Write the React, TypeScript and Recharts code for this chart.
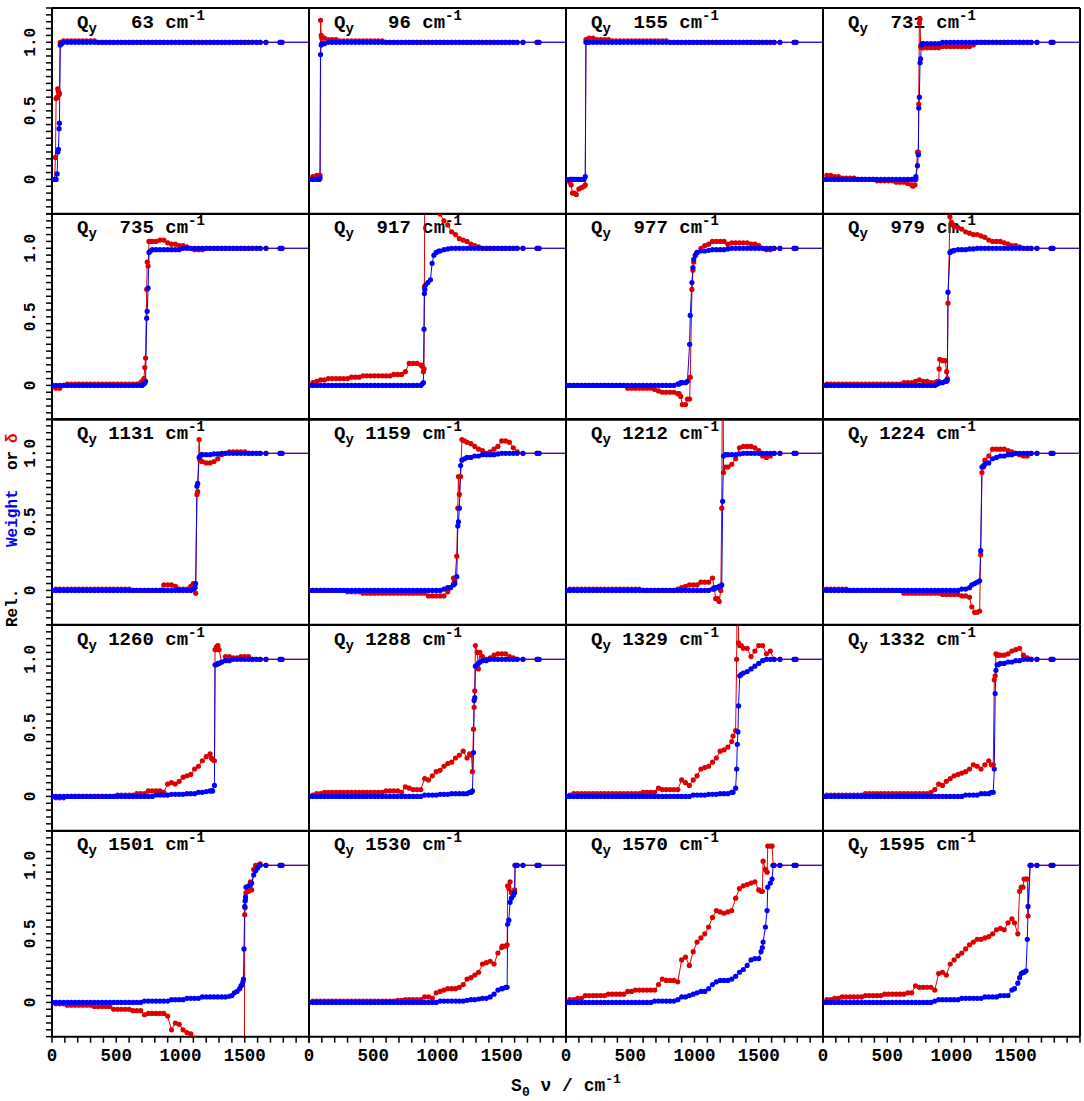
import React from 'react';
import { LineChart, Line, XAxis, YAxis } from 'recharts';

// ---------- shared S0 frequency grid (cm-1) ----------
const GRID_X = [
  0, 30, 60, 90, 120, 150, 180, 210, 240, 270,
  300, 330, 360, 390, 420, 450, 480, 510, 540, 570,
  600, 630, 660, 690, 720, 750, 780, 810, 840, 870,
  900, 930, 960, 990, 1020, 1050, 1080, 1110, 1140, 1170,
  1200, 1230, 1260, 1290, 1320, 1350, 1380, 1410, 1440, 1470,
  1500, 1530, 1560, 1590, 1620,
];
const TAIL_X = [1665, 1775, 1790, 3000];
const TAIL_VALUE = [1, 1, 1, 1];

const X_TICKS = [0, 100, 200, 300, 400, 500, 600, 700, 800, 900, 1000, 1100, 1200, 1300, 1400, 1500, 1600, 1700, 1800, 1900, 2000];
const X_LABELS = [0, 500, 1000, 1500];
const Y_TICKS = [-0.25, -0.2, -0.15, -0.1, -0.05, 0, 0.05, 0.1, 0.15, 0.2, 0.25, 0.3, 0.35, 0.4, 0.45, 0.5, 0.55, 0.6, 0.65, 0.7, 0.75, 0.8, 0.85, 0.9, 0.95, 1, 1.05, 1.1, 1.15, 1.2, 1.25];
const Y_LABELS = [0, 0.5, 1];
const Y_LABEL_TEXT = ['0', '0.5', '1.0'];

const MODES = [63, 96, 155, 731, 735, 917, 977, 979, 1131, 1159, 1212, 1224, 1260, 1288, 1329, 1332, 1501, 1530, 1570, 1595];

// ---------- Qy 63 ----------
const B63 = [
  0, 0, 0, 1, 1, 1, 1, 1, 1, 1,
  1, 1, 1, 1, 1, 1, 1, 1, 1, 1,
  1, 1, 1, 1, 1, 1, 1, 1, 1, 1,
  1, 1, 1, 1, 1, 1, 1, 1, 1, 1,
  1, 1, 1, 1, 1, 1, 1, 1, 1, 1,
  1, 1, 1, 1, 1,
];
const R63 = [
  0, 0, 0.6, 1.01, 1.01, 1.01, 1.01, 1.01, 1.01, 1.01,
  1.01, 1.01, 1, 1, 1, 1, 1, 1, 1, 1,
  1, 1, 1, 1, 1, 1, 1, 1, 1, 1,
  1, 1, 1, 1, 1, 1, 1, 1, 1, 1,
  1, 1, 1, 1, 1, 1, 1, 1, 1, 1,
  1, 1, 1, 1, 1,
];
const E63 = [[20, 0, 0], [27, 0, 0.16], [32, 0, 0.59], [40, 0.04, 0.6], [45, 0.2, 0.66], [50, 0.22, 0.64], [55, 0.37, 0.62], [58, 0.41, 0.63], [64, 0.98, 1.0], [75, 0.99, 1.0]];

// ---------- Qy 96 ----------
const B96 = [
  0, 0, 0, 0, 0.99, 1, 1, 1, 1, 1,
  1, 1, 1, 1, 1, 1, 1, 1, 1, 1,
  1, 1, 1, 1, 1, 1, 1, 1, 1, 1,
  1, 1, 1, 1, 1, 1, 1, 1, 1, 1,
  1, 1, 1, 1, 1, 1, 1, 1, 1, 1,
  1, 1, 1, 1, 1,
];
const R96 = [
  0, 0.02, 0.03, 0.03, 1.03, 1.02, 1.02, 1.02, 1.01, 1.01,
  1.01, 1.01, 1.01, 1.01, 1.01, 1.01, 1.01, 1.01, 1.01, 1.01,
  1, 1, 1, 1, 1, 1, 1, 1, 1, 1,
  1, 1, 1, 1, 1, 1, 1, 1, 1, 1,
  1, 1, 1, 1, 1, 1, 1, 1, 1, 1,
  1, 1, 1, 1, 1,
];
const E96 = [[80, 0, 0.03], [86, 0.01, 0.03], [90, 0.91, 1.16], [95, 0.98, 1.05], [100, 0.99, 1.03]];

// ---------- Qy 155 ----------
const B155 = [
  0, 0, 0, 0, 0, 0, 1, 1, 1, 1,
  1, 1, 1, 1, 1, 1, 1, 1, 1, 1,
  1, 1, 1, 1, 1, 1, 1, 1, 1, 1,
  1, 1, 1, 1, 1, 1, 1, 1, 1, 1,
  1, 1, 1, 1, 1, 1, 1, 1, 1, 1,
  1, 1, 1, 1, 1,
];
const R155 = [
  0, -0.02, -0.1, -0.1, -0.07, -0.05, 1.03, 1.03, 1.02, 1.02,
  1.02, 1.02, 1.01, 1.01, 1.01, 1.01, 1.01, 1.01, 1.01, 1.01,
  1.01, 1.01, 1.01, 1.01, 1.01, 1.01, 1.01, 1, 1, 1,
  1, 1, 1, 1, 1, 1, 1, 1, 1, 1,
  1, 1, 1, 1, 1, 1, 1, 1, 1, 1,
  1, 1, 1, 1, 1,
];
const E155 = [[40, 0, -0.04], [50, 0, -0.1], [65, 0, -0.1], [80, 0, -0.11], [100, 0, -0.07], [120, 0, -0.06], [140, 0, -0.05], [150, 0.02, -0.04], [155, 1.0, 1.02], [165, 1.0, 1.02]];

// ---------- Qy 731 ----------
const B731 = [
  0, 0, 0, 0, 0, 0, 0, 0, 0, 0,
  0, 0, 0, 0, 0, 0, 0, 0, 0, 0,
  0, 0, 0, 0, 0.5, 0.5, 0.99, 0.99, 0.99, 0.99,
  0.99, 1, 1, 1, 1, 1, 1, 1, 1, 1,
  1, 1, 1, 1, 1, 1, 1, 1, 1, 1,
  1, 1, 1, 1, 1,
];
const R731 = [
  0, 0.03, 0.03, 0.02, 0.02, 0.01, 0.01, 0.01, 0.01, 0,
  0, 0, 0, 0, -0.01, -0.01, -0.01, -0.01, -0.01, -0.02,
  -0.02, -0.02, -0.03, -0.04, 0.5, 0.5, 0.96, 0.96, 0.96, 0.96,
  0.96, 0.97, 0.97, 0.97, 0.97, 0.97, 0.97, 0.97, 0.97, 0.98,
  1, 1, 1, 1, 1, 1, 1, 1, 1, 1,
  1, 1, 1, 1, 1,
];
const E731 = [[700, 0, -0.05], [715, 0, -0.04], [723, 0.02, 0.0], [735, 0.1, 0.2], [742, 0.18, 0.2], [745, 0.52, 0.55], [750, 0.6, 1.14], [755, 0.85, 1.17], [760, 0.88, 0.97], [765, 0.98, 0.96], [775, 0.99, 0.96]];

// ---------- Qy 735 ----------
const B735 = [
  0, 0, 0, 0, 0, 0, 0, 0, 0, 0,
  0, 0, 0, 0, 0, 0, 0, 0, 0, 0,
  0, 0, 0, 0, 0.5, 0.5, 0.99, 0.99, 0.99, 0.99,
  0.99, 0.99, 0.99, 0.99, 1, 1, 1, 1, 1, 1,
  1, 1, 1, 1, 1, 1, 1, 1, 1, 1,
  1, 1, 1, 1, 1,
];
const R735 = [
  0, -0.02, -0.02, 0, 0.01, 0.01, 0.01, 0.01, 0.01, 0.01,
  0.01, 0.01, 0.01, 0.01, 0.01, 0.01, 0.01, 0.01, 0.01, 0.01,
  0.01, 0.01, 0.01, 0.02, 0.5, 0.5, 1.05, 1.05, 1.06, 1.06,
  1.04, 1.03, 1.03, 1.02, 1.02, 1.01, 1, 0.99, 0.99, 0.99,
  1, 1, 1, 1, 1, 1, 1, 1, 1, 1,
  1, 1, 1, 1, 1,
];
const E735 = [[700, 0, 0.03], [715, 0.01, 0.05], [722, 0.02, 0.13], [728, 0.03, 0.2], [737, 0.49, 0.7], [741, 0.54, 0.9], [748, 0.71, 0.87], [755, 0.97, 1.05], [765, 0.98, 1.05]];

// ---------- Qy 917 ----------
const B917 = [
  0, 0, 0, 0, 0, 0, 0, 0, 0, 0,
  0, 0, 0, 0, 0, 0, 0, 0, 0, 0,
  0, 0, 0, 0, 0, 0, 0, 0, 0, 0,
  0.7, 0.8, 0.9, 0.97, 0.98, 0.99, 0.995, 1, 1, 1,
  1, 1, 1, 1, 1, 1, 1, 1, 1, 1,
  1, 1, 1, 1, 1,
];
const R917 = [
  0, 0.02, 0.03, 0.04, 0.04, 0.05, 0.05, 0.05, 0.05, 0.05,
  0.05, 0.06, 0.06, 0.06, 0.07, 0.07, 0.07, 0.07, 0.07, 0.07,
  0.07, 0.07, 0.08, 0.08, 0.08, 0.1, 0.16, 0.16, 0.16, 0.15,
  1.6, 1.55, 1.45, 1.35, 1.25, 1.2, 1.17, 1.12, 1.1, 1.07,
  1.06, 1.05, 1.03, 1.02, 1.01, 1, 1, 1, 1, 1,
  1, 1, 1, 1, 1,
];
const E917 = [[880, 0.01, 0.14], [890, 0.02, 0.1], [895, 0.41, 0.12], [898, 0.67, 0.72], [901, 0.7, 1.6], [906, 0.73, 1.6], [925, 0.75, 1.55], [945, 0.77, 1.5], [958, 0.89, 1.45], [972, 0.95, 1.4], [990, 0.97, 1.35], [1010, 0.98, 1.28]];

// ---------- Qy 977 ----------
const B977 = [
  0, 0, 0, 0, 0, 0, 0, 0, 0, 0,
  0, 0, 0, 0, 0, 0, 0, 0, 0, 0,
  0, 0, 0, 0, 0, 0, 0, 0, 0, 0.01,
  0.02, 0.02, 0.3, 0.9, 0.97, 0.98, 0.98, 0.985, 0.99, 0.99,
  0.99, 0.99, 0.995, 1, 1, 1, 1, 1, 1, 1,
  1, 1, 1, 1, 1,
];
const R977 = [
  0, 0, 0, 0, 0, 0, 0, 0, 0, 0,
  0, 0, 0, 0, 0, 0, -0.02, -0.02, -0.02, -0.02,
  -0.02, -0.02, -0.02, -0.03, -0.04, -0.05, -0.05, -0.05, -0.05, -0.06,
  -0.14, -0.14, -0.1, 0.9, 0.97, 1, 1.02, 1.03, 1.05, 1.05,
  1.05, 1.05, 1.03, 1.04, 1.04, 1.04, 1.04, 1.04, 1.03, 1.03,
  1.02, 1, 0.99, 0.99, 1,
];
const E977 = [[880, 0.01, -0.06], [893, 0.02, -0.08], [905, 0.02, -0.14], [930, 0.02, -0.14], [945, 0.03, -0.1], [962, 0.3, -0.1], [967, 0.51, 0.06], [980, 0.75, 0.7], [988, 0.86, 0.84], [994, 0.92, 0.9], [1007, 0.95, 0.95], [1020, 0.97, 0.97]];

// ---------- Qy 979 ----------
const B979 = [
  0, 0, 0, 0, 0, 0, 0, 0, 0, 0,
  0, 0, 0, 0, 0, 0, 0, 0, 0, 0,
  0, 0, 0, 0, 0, 0, 0, 0, 0, 0,
  0.02, 0.02, 0.03, 0.97, 0.985, 0.99, 0.99, 0.99, 0.995, 0.995,
  1, 1, 1, 1, 1, 1, 1, 1, 1, 1,
  1, 1, 1, 1, 1,
];
const R979 = [
  0, 0.01, 0.01, 0.01, 0.01, 0.01, 0.01, 0.01, 0.01, 0.01,
  0.01, 0.01, 0.01, 0.01, 0.01, 0.01, 0.01, 0.01, 0.01, 0.01,
  0.01, 0.02, 0.02, 0.02, 0.03, 0.04, 0.03, 0.03, 0.02, 0.02,
  0.03, 0.18, 0.1, 1.2, 1.16, 1.15, 1.14, 1.12, 1.11, 1.1,
  1.1, 1.09, 1.08, 1.06, 1.05, 1.05, 1.05, 1.04, 1.03, 1.02,
  1.02, 1.01, 1, 1, 1,
];
const E979 = [[890, 0.01, 0.03], [901, 0.02, 0.03], [904, 0.02, 0.12], [909, 0.02, 0.19], [930, 0.02, 0.18], [950, 0.03, 0.18], [962, 0.03, 0.1], [967, 0.04, 0.05], [973, 0.68, 0.6], [988, 0.97, 1.23], [1000, 0.98, 1.19], [1015, 0.98, 1.17]];

// ---------- Qy 1131 ----------
const B1131 = [
  0, 0, 0, 0, 0, 0, 0, 0, 0, 0,
  0, 0, 0, 0, 0, 0, 0, 0, 0, 0,
  0, 0, 0, 0, 0, 0, 0, 0, 0, 0,
  0, 0, 0, 0, 0, 0, 0, 0.03, 0.7, 0.99,
  0.99, 0.99, 0.995, 0.995, 1, 1, 1, 1, 1, 1,
  1, 1, 1, 1, 1,
];
const R1131 = [
  0, 0.01, 0.01, 0.01, 0.01, 0.01, 0.01, 0.01, 0.01, 0.01,
  0.01, 0.01, 0.01, 0.01, 0.01, 0.01, 0.01, 0.01, 0.01, 0.01,
  0.01, 0, 0, 0, 0, 0, 0, 0, 0, 0.04,
  0.04, 0.04, 0.03, 0.01, 0.01, 0.01, 0.03, 0.03, 0.7, 0.94,
  0.93, 0.93, 0.94, 0.96, 0.99, 1, 1.01, 1.01, 1.01, 1.01,
  1.01, 1, 1, 1, 1,
];
const E1131 = [[1100, 0.01, 0.05], [1112, 0.02, 0.02], [1118, 0.05, -0.02], [1128, 0.76, 0.7], [1134, 0.78, 0.72], [1145, 0.97, 1.1], [1152, 0.98, 0.95], [1165, 0.99, 0.94]];

// ---------- Qy 1159 ----------
const B1159 = [
  0, 0, 0, 0, 0, 0, 0, 0, 0, 0,
  0, 0, 0, 0, 0, 0, 0, 0, 0, 0,
  0, 0, 0, 0, 0, 0, 0, 0, 0, 0,
  0, 0, 0, 0, 0, 0.01, 0.02, 0.03, 0.06, 0.6,
  0.95, 0.97, 0.97, 0.98, 0.98, 0.99, 0.99, 0.99, 0.99, 0.995,
  1, 1, 1, 1, 1,
];
const R1159 = [
  0, 0, 0, 0, 0, 0, 0, 0, 0, 0,
  -0.01, -0.01, -0.01, -0.01, -0.02, -0.02, -0.02, -0.02, -0.02, -0.02,
  -0.02, -0.02, -0.02, -0.02, -0.02, -0.02, -0.02, -0.02, -0.02, -0.02,
  -0.02, -0.04, -0.04, -0.04, -0.04, -0.04, -0.01, 0.02, 0.07, 0.7,
  1.1, 1.08, 1.07, 1.05, 1.03, 1.02, 1, 1.01, 1.03, 1.05,
  1.09, 1.09, 1.08, 1.04, 1.01,
];
const E1159 = [[1100, 0.02, 0.02], [1124, 0.04, 0.09], [1135, 0.05, 0.07], [1150, 0.1, 0.25], [1158, 0.47, 0.6], [1163, 0.5, 0.83], [1170, 0.6, 0.7], [1180, 0.91, 0.83], [1190, 0.95, 1.1], [1210, 0.96, 1.09]];

// ---------- Qy 1212 ----------
const B1212 = [
  0, 0, 0, 0, 0, 0, 0, 0, 0, 0,
  0, 0, 0, 0, 0, 0, 0, 0, 0, 0,
  0, 0, 0, 0, 0, 0, 0, 0, 0, 0,
  0, 0, 0, 0, 0, 0, 0, 0, 0.01, 0.02,
  0.03, 0.99, 0.99, 0.99, 0.99, 0.995, 1, 1, 1, 1,
  1, 1, 1, 1, 1,
];
const R1212 = [
  0, 0.01, 0.01, 0.01, 0.01, 0.01, 0.01, 0.01, 0.01, 0.01,
  0.01, 0.01, 0.01, 0.01, 0.01, 0.01, 0.01, 0.01, 0.01, 0.01,
  0, 0, 0, 0, 0, 0, 0, 0, 0, 0.01,
  0.02, 0.03, 0.04, 0.04, 0.04, 0.06, 0.06, 0.06, 0.09, -0.06,
  -0.06, 0.88, 0.9, 0.92, 0.96, 1.04, 1.05, 1.05, 1.05, 1.04,
  1.02, 0.98, 0.97, 0.98, 1,
];
const E1212 = [[1140, 0.01, 0.09], [1153, 0.01, 0.02], [1165, 0.02, -0.06], [1180, 0.02, -0.06], [1192, 0.03, -0.08], [1205, 0.03, 0.0], [1212, 0.04, 0.6], [1219, 0.65, 2.0], [1226, 0.98, 0.86], [1240, 0.99, 0.9]];

// ---------- Qy 1224 ----------
const B1224 = [
  0, 0, 0, 0, 0, 0, 0, 0, 0, 0,
  0, 0, 0, 0, 0, 0, 0, 0, 0, 0,
  0, 0, 0, 0, 0, 0, 0, 0, 0, 0,
  0, 0, 0, 0, 0, 0, 0.01, 0.01, 0.02, 0.05,
  0.06, 0.9, 0.92, 0.93, 0.96, 0.97, 0.98, 0.98, 0.99, 0.99,
  1, 1, 1, 1, 1,
];
const R1224 = [
  0.01, 0.01, 0.01, 0.01, 0.01, 0.01, 0.01, 0, 0, 0,
  0, 0, 0, 0, 0, 0, 0, 0, 0, 0,
  0, -0.02, -0.02, -0.02, -0.02, -0.02, -0.02, -0.02, -0.02, -0.02,
  -0.02, -0.03, -0.03, -0.03, -0.03, -0.03, -0.04, -0.04, -0.05, -0.16,
  -0.16, 0.86, 0.95, 0.98, 1.03, 1.03, 1.03, 1.03, 1.02, 1.01,
  1, 0.99, 0.98, 0.98, 1,
];
const E1224 = [[1140, 0.02, -0.05], [1158, 0.04, -0.12], [1180, 0.05, -0.16], [1200, 0.06, -0.16], [1219, 0.07, -0.15], [1227, 0.29, 0.26], [1237, 0.9, 0.86], [1250, 0.91, 0.9]];

// ---------- Qy 1260 ----------
const B1260 = [
  0, 0, 0, 0, 0, 0, 0, 0, 0, 0,
  0, 0, 0, 0, 0, 0, 0, 0, 0, 0,
  0, 0, 0, 0, 0, 0, 0, 0.01, 0.01, 0.01,
  0.01, 0.015, 0.015, 0.015, 0.015, 0.02, 0.02, 0.02, 0.03, 0.03,
  0.035, 0.04, 0.5, 0.97, 0.98, 0.99, 0.99, 1, 1, 1,
  1, 1, 1, 1, 1,
];
const R1260 = [
  0, -0.01, -0.01, -0.01, 0, 0, 0, 0, 0, 0,
  0, 0, 0, 0, 0, 0, 0, 0.01, 0.01, 0.01,
  0.01, 0.01, 0.02, 0.02, 0.02, 0.04, 0.04, 0.04, 0.04, 0.03,
  0.09, 0.1, 0.09, 0.11, 0.14, 0.15, 0.16, 0.2, 0.22, 0.26,
  0.29, 0.31, 0.5, 1.06, 0.98, 1.02, 1.02, 1.01, 1.01, 1.02,
  1.02, 1.02, 1, 1, 1,
];
const E1260 = [[1240, 0.04, 0.28], [1250, 0.04, 0.27], [1264, 0.08, 0.26], [1269, 0.96, 1.07], [1280, 0.96, 1.09], [1291, 0.97, 1.1], [1300, 0.97, 1.07]];

// ---------- Qy 1288 ----------
const B1288 = [
  0, 0, 0, 0, 0, 0, 0, 0, 0, 0,
  0, 0, 0, 0, 0, 0, 0, 0, 0, 0,
  0, 0, 0, 0, 0, 0, 0, 0, 0, 0,
  0.01, 0.01, 0.01, 0.01, 0.015, 0.015, 0.015, 0.02, 0.02, 0.02,
  0.02, 0.02, 0.03, 0.7, 0.97, 0.99, 0.99, 1, 1, 1,
  1, 1, 1, 1, 1,
];
const R1288 = [
  0, 0.01, 0.02, 0.02, 0.03, 0.03, 0.03, 0.03, 0.03, 0.03,
  0.03, 0.03, 0.03, 0.03, 0.03, 0.03, 0.03, 0.03, 0.03, 0.03,
  0.04, 0.04, 0.04, 0.04, 0.03, 0.07, 0.06, 0.05, 0.05, 0.05,
  0.13, 0.12, 0.15, 0.18, 0.19, 0.22, 0.24, 0.25, 0.28, 0.3,
  0.33, 0.28, 0.3, 0.7, 0.93, 1.02, 1, 1.01, 1.03, 1.04,
  1.04, 1.04, 1.02, 1.01, 1,
];
const E1288 = [[1250, 0.03, 0.31], [1264, 0.03, 0.3], [1272, 0.04, 0.18], [1280, 0.32, 0.49], [1285, 0.7, 0.65], [1290, 0.72, 0.77], [1295, 0.95, 1.1], [1310, 0.96, 1.05], [1318, 0.97, 0.93], [1330, 0.98, 1.05]];

// ---------- Qy 1329 ----------
const B1329 = [
  0, 0, 0, 0, 0, 0, 0, 0, 0, 0,
  0, 0, 0, 0, 0, 0, 0, 0, 0, 0,
  0, 0, 0, 0, 0, 0, 0, 0, 0, 0,
  0, 0, 0, 0.01, 0.01, 0.01, 0.01, 0.015, 0.015, 0.015,
  0.02, 0.02, 0.02, 0.03, 0.06, 0.88, 0.9, 0.91, 0.93, 0.95,
  0.97, 0.99, 1, 1, 1,
];
const R1329 = [
  0, 0.01, 0.02, 0.02, 0.02, 0.02, 0.02, 0.02, 0.02, 0.02,
  0.02, 0.02, 0.02, 0.02, 0.02, 0.02, 0.02, 0.02, 0.02, 0.02,
  0.03, 0.03, 0.03, 0.03, 0.06, 0.05, 0.05, 0.05, 0.05, 0.05,
  0.12, 0.1, 0.08, 0.12, 0.15, 0.2, 0.21, 0.22, 0.25, 0.28,
  0.33, 0.34, 0.36, 0.4, 0.48, 1.1, 1.08, 1.08, 1.02, 1.06,
  1.1, 1.1, 1.04, 1.06, 1,
];
const E1329 = [[1300, 0.03, 0.44], [1320, 0.06, 0.48], [1328, 0.2, 1.0], [1333, 0.38, 1.6], [1338, 0.47, 1.6], [1343, 0.66, 1.12], [1352, 0.88, 1.1], [1365, 0.89, 1.1]];

// ---------- Qy 1332 ----------
const B1332 = [
  0, 0, 0, 0, 0, 0, 0, 0, 0, 0,
  0, 0, 0, 0, 0, 0, 0, 0, 0, 0,
  0, 0, 0, 0, 0, 0, 0, 0, 0, 0,
  0, 0, 0, 0, 0, 0, 0, 0.01, 0.01, 0.01,
  0.01, 0.02, 0.02, 0.02, 0.03, 0.96, 0.97, 0.97, 0.98, 0.98,
  0.99, 0.99, 1, 1, 1,
];
const R1332 = [
  0, 0.01, 0.01, 0.01, 0.01, 0.01, 0.01, 0.01, 0.01, 0.01,
  0.01, 0.02, 0.02, 0.02, 0.02, 0.02, 0.02, 0.02, 0.02, 0.02,
  0.02, 0.02, 0.02, 0.02, 0.02, 0.02, 0.02, 0.02, 0.03, 0.05,
  0.09, 0.08, 0.11, 0.13, 0.15, 0.16, 0.17, 0.18, 0.2, 0.23,
  0.22, 0.2, 0.23, 0.26, 0.23, 1.03, 1.03, 1.03, 1.04, 1.06,
  1.07, 1.08, 1.03, 1.01, 1,
];
const E1332 = [[1310, 0.03, 0.23], [1325, 0.03, 0.23], [1333, 0.2, 0.85], [1340, 0.75, 0.88], [1346, 0.92, 1.04], [1355, 0.96, 1.03], [1365, 0.96, 1.03]];

// ---------- Qy 1501 ----------
const B1501 = [
  0, 0, 0, 0, 0, 0, 0, 0, 0, 0,
  0, 0, 0, 0, 0, 0, 0, 0, 0, 0,
  0, 0, 0, 0, 0.01, 0.01, 0.01, 0.01, 0.01, 0.01,
  0.01, 0.02, 0.02, 0.02, 0.02, 0.03, 0.03, 0.03, 0.03, 0.04,
  0.04, 0.04, 0.04, 0.04, 0.04, 0.04, 0.045, 0.07, 0.08, 0.12,
  0.7, 0.85, 0.87, 0.97, 1,
];
const R1501 = [
  0, -0.01, -0.01, -0.01, -0.02, -0.02, -0.02, -0.02, -0.02, -0.02,
  -0.02, -0.03, -0.03, -0.03, -0.03, -0.03, -0.05, -0.05, -0.05, -0.05,
  -0.05, -0.06, -0.06, -0.06, -0.09, -0.08, -0.08, -0.08, -0.08, -0.08,
  -0.1, -0.2, -0.15, -0.16, -0.2, -0.22, -0.23, -0.26, -0.3, -0.35,
  -0.4, -0.45, -0.5, -0.55, -0.6, -0.62, -0.65, -0.7, -0.9, -1.1,
  0.64, 0.81, 0.82, 1, 1.01,
];
const E1501 = [[1400, 0.05, -0.7], [1419, 0.07, -0.8], [1440, 0.08, -0.9], [1460, 0.1, -1.0], [1471, 0.12, -1.1], [1480, 0.13, -1.2], [1486, 0.15, -1.3], [1490, 0.17, -1.5], [1494, 0.39, -2.0], [1500, 0.7, 0.64], [1503, 0.74, 0.69], [1506, 0.77, 0.75], [1510, 0.84, 0.8], [1531, 0.85, 0.81], [1544, 0.86, 0.88], [1554, 0.87, 0.82], [1570, 0.93, 0.97], [1585, 0.96, 1.0], [1600, 0.98, 1.0]];

// ---------- Qy 1530 ----------
const B1530 = [
  0, 0, 0, 0, 0, 0, 0, 0, 0, 0,
  0, 0, 0, 0, 0, 0, 0, 0, 0, 0,
  0, 0, 0, 0, 0, 0, 0, 0, 0, 0,
  0, 0, 0, 0, 0.01, 0.01, 0.01, 0.01, 0.01, 0.01,
  0.01, 0.015, 0.02, 0.02, 0.025, 0.03, 0.03, 0.04, 0.06, 0.09,
  0.1, 0.11, 0.6, 0.78, 1,
];
const R1530 = [
  0, 0.01, 0.01, 0.01, 0.01, 0.01, 0.01, 0.01, 0.01, 0.01,
  0.01, 0.01, 0.01, 0.01, 0.01, 0.01, 0.01, 0.01, 0.01, 0.01,
  0.01, 0.01, 0.01, 0.015, 0.015, 0.02, 0.02, 0.02, 0.02, 0.02,
  0.04, 0.04, 0.03, 0.07, 0.08, 0.09, 0.1, 0.1, 0.1, 0.11,
  0.13, 0.17, 0.18, 0.2, 0.22, 0.28, 0.29, 0.3, 0.28, 0.36,
  0.4, 0.41, 0.83, 0.8, 1,
];
const E1530 = [[1505, 0.1, 0.41], [1531, 0.11, 0.41], [1542, 0.11, 0.42], [1546, 0.57, 0.85], [1555, 0.6, 0.83], [1565, 0.73, 0.88], [1575, 0.76, 0.8], [1590, 0.78, 0.8], [1600, 0.8, 0.82], [1604, 1.0, 1.0]];

// ---------- Qy 1570 ----------
const B1570 = [
  0, 0, 0, 0, 0, 0, 0, 0, 0, 0,
  0, 0, 0, 0, 0, 0, 0, 0, 0, 0,
  0, 0, 0, 0.01, 0.01, 0.01, 0.01, 0.01, 0.01, 0.02,
  0.04, 0.04, 0.05, 0.06, 0.07, 0.08, 0.08, 0.1, 0.13, 0.15,
  0.16, 0.16, 0.16, 0.17, 0.19, 0.22, 0.24, 0.27, 0.31, 0.32,
  0.32, 0.4, 0.6, 0.87, 1,
];
const R1570 = [
  0, 0.02, 0.02, 0.03, 0.03, 0.05, 0.05, 0.05, 0.05, 0.05,
  0.05, 0.06, 0.06, 0.06, 0.06, 0.06, 0.08, 0.08, 0.09, 0.09,
  0.09, 0.09, 0.09, 0.09, 0.13, 0.17, 0.16, 0.16, 0.16, 0.15,
  0.31, 0.33, 0.27, 0.37, 0.44, 0.47, 0.5, 0.55, 0.62, 0.67,
  0.66, 0.65, 0.66, 0.67, 0.76, 0.83, 0.85, 0.86, 0.87, 0.88,
  0.82, 0.81, 0.97, 1.14, 1,
];
const E1570 = [[1500, 0.32, 0.82], [1518, 0.37, 0.81], [1528, 0.4, 0.81], [1534, 0.44, 1.03], [1552, 0.55, 0.97], [1565, 0.67, 0.95], [1570, 0.84, 1.14], [1590, 0.87, 1.14], [1604, 0.9, 1.14], [1612, 1.0, 1.0]];

// ---------- Qy 1595 ----------
const B1595 = [
  0, 0, 0, 0, 0, 0, 0, 0, 0, 0,
  0, 0, 0, 0, 0, 0, 0, 0, 0, 0,
  0, 0, 0, 0, 0, 0, 0, 0, 0, 0.01,
  0.02, 0.02, 0.02, 0.02, 0.02, 0.02, 0.03, 0.03, 0.03, 0.03,
  0.03, 0.03, 0.04, 0.04, 0.04, 0.04, 0.05, 0.05, 0.05, 0.09,
  0.1, 0.18, 0.22, 0.46, 1,
];
const R1595 = [
  0, 0.02, 0.02, 0.03, 0.03, 0.04, 0.04, 0.04, 0.04, 0.04,
  0.04, 0.05, 0.05, 0.05, 0.05, 0.05, 0.06, 0.06, 0.06, 0.06,
  0.06, 0.06, 0.07, 0.07, 0.12, 0.11, 0.11, 0.11, 0.11, 0.09,
  0.21, 0.22, 0.2, 0.28, 0.31, 0.34, 0.36, 0.39, 0.42, 0.44,
  0.46, 0.46, 0.47, 0.48, 0.5, 0.53, 0.54, 0.53, 0.58, 0.61,
  0.5, 0.81, 0.84, 0.9, 1,
];
const E1595 = [[1490, 0.1, 0.58], [1516, 0.14, 0.5], [1530, 0.18, 0.81], [1543, 0.21, 0.84], [1556, 0.22, 0.84], [1565, 0.22, 0.9], [1580, 0.23, 0.9], [1590, 0.46, 0.9], [1596, 0.7, 0.63], [1612, 1.0, 1.0]];

const PANEL_DATA = [
  [B63, R63, E63], [B96, R96, E96], [B155, R155, E155], [B731, R731, E731],
  [B735, R735, E735], [B917, R917, E917], [B977, R977, E977], [B979, R979, E979],
  [B1131, R1131, E1131], [B1159, R1159, E1159], [B1212, R1212, E1212], [B1224, R1224, E1224],
  [B1260, R1260, E1260], [B1288, R1288, E1288], [B1329, R1329, E1329], [B1332, R1332, E1332],
  [B1501, R1501, E1501], [B1530, R1530, E1530], [B1570, R1570, E1570], [B1595, R1595, E1595],
];

function buildRows(blue: number[], red: number[], extra: number[][]) {
  const lo = extra[0][0];
  const hi = extra[extra.length - 1][0];
  const rows: { x: number; b: number; r: number }[] = [];
  GRID_X.forEach((x, i) => {
    if (x < lo || x > hi) rows.push({ x, b: blue[i], r: red[i] });
  });
  extra.forEach(([x, b, r]) => rows.push({ x, b, r }));
  TAIL_X.forEach((x, i) => rows.push({ x, b: TAIL_VALUE[i], r: TAIL_VALUE[i] }));
  rows.sort((a, c) => a.x - c.x);
  return rows;
}

// ---------- layout ----------
const FONT = '"Liberation Mono", "DejaVu Sans Mono", monospace';
const PW = 257;
const PH = 205.7;
const X0 = 52;
const Y0 = 8;
const M = 50;
const BLUE = '#0000ff';
const RED = '#dd0000';
const DOT_R = 2.6;

const xLabel = (v: number) => (X_LABELS.includes(v) ? String(v) : '');

const YTick = (props: any) => {
  const { x, y, payload } = props;
  const idx = Y_LABELS.findIndex((v) => Math.abs(v - payload.value) < 1e-6);
  if (idx < 0) return <g />;
  return (
    <text
      x={x}
      y={y}
      transform={`rotate(-90 ${x} ${y})`}
      textAnchor="middle"
      dominantBaseline="central"
      fontFamily={FONT}
      fontSize={16}
      fontWeight="bold"
      fill="#000"
    >
      {Y_LABEL_TEXT[idx]}
    </text>
  );
};

const axisLineStyle = { stroke: '#000', strokeWidth: 2 };
const tickLineStyle = { stroke: '#000', strokeWidth: 1.5 };

function Panel({ index }: { index: number }) {
  const row = Math.floor(index / 4);
  const col = index % 4;
  const [blue, red, extra] = PANEL_DATA[index] as [number[], number[], number[][]];
  const rows = buildRows(blue, red, extra);
  const isBottom = row === 4;
  const isTop = row === 0;
  const isLeft = col === 0;
  const isRight = col === 3;
  return (
    <div style={{ position: 'absolute', left: X0 + col * PW - M, top: Y0 + row * PH - M }}>
      <LineChart
        width={PW + 2 * M}
        height={PH + 2 * M}
        data={rows}
        margin={{ top: M - 1, right: M - 1, bottom: M - 1, left: M - 1 }}
      >
        <XAxis
          xAxisId="b"
          dataKey="x"
          type="number"
          orientation="bottom"
          domain={[0, 2000]}
          allowDataOverflow
          ticks={X_TICKS}
          interval={0}
          height={1}
          axisLine={axisLineStyle}
          tickLine={isBottom ? tickLineStyle : false}
          tickSize={6}
          tickMargin={6}
          tick={isBottom ? { fontSize: 17.5, fontFamily: FONT, fontWeight: 'bold', fill: '#000' } : false}
          tickFormatter={xLabel}
        />
        <XAxis
          xAxisId="t"
          dataKey="x"
          type="number"
          orientation="top"
          domain={[0, 2000]}
          allowDataOverflow
          ticks={X_TICKS}
          interval={0}
          height={1}
          axisLine={axisLineStyle}
          tickLine={isTop ? tickLineStyle : false}
          tickSize={6}
          tick={false}
        />
        <YAxis
          yAxisId="l"
          type="number"
          orientation="left"
          domain={[-0.25, 1.25]}
          allowDataOverflow
          ticks={Y_TICKS}
          interval={0}
          width={1}
          axisLine={axisLineStyle}
          tickLine={isLeft ? tickLineStyle : false}
          tickSize={6}
          tickMargin={15}
          tick={isLeft ? (p: any) => <YTick {...p} /> : false}
        />
        <YAxis
          yAxisId="r"
          type="number"
          orientation="right"
          domain={[-0.25, 1.25]}
          allowDataOverflow
          ticks={Y_TICKS}
          interval={0}
          width={1}
          axisLine={axisLineStyle}
          tickLine={isRight ? tickLineStyle : false}
          tickSize={6}
          tick={false}
        />
        <Line
          xAxisId="b"
          yAxisId="l"
          dataKey="r"
          type="linear"
          stroke={RED}
          strokeWidth={1}
          dot={{ r: DOT_R, fill: RED, stroke: RED, strokeWidth: 0 }}
          activeDot={false}
          isAnimationActive={false}
        />
        <Line
          xAxisId="b"
          yAxisId="l"
          dataKey="b"
          type="linear"
          stroke={BLUE}
          strokeWidth={1}
          dot={{ r: DOT_R, fill: BLUE, stroke: BLUE, strokeWidth: 0 }}
          activeDot={false}
          isAnimationActive={false}
        />
      </LineChart>
    </div>
  );
}

function PanelLabel({ index }: { index: number }) {
  const row = Math.floor(index / 4);
  const col = index % 4;
  const num = String(MODES[index]).padStart(4, ' ');
  return (
    <text
      x={X0 + col * PW + 25}
      y={Y0 + row * PH + 19.5}
      fontFamily={FONT}
      fontSize={19}
      fontWeight="bold"
      fill="#000"
      xmlSpace="preserve"
      style={{ whiteSpace: 'pre' }}
    >
      Q
      <tspan fontSize={14} dy={5}>y</tspan>
      <tspan dy={-5}>{' ' + num + ' cm'}</tspan>
      <tspan fontSize={14} dy={-8}>-1</tspan>
    </text>
  );
}

export default function App() {
  const idx = MODES.map((_, i) => i);
  return (
    <div
      style={{
        position: 'absolute',
        left: 0,
        top: 0,
        width: 1084,
        height: 1101,
        overflow: 'hidden',
        background: '#fff',
      }}
    >
      <svg width={1084} height={1101} style={{ position: 'absolute', left: 0, top: 0 }}>
        {idx.map((i) => (
          <PanelLabel key={i} index={i} />
        ))}
      </svg>
      {idx.map((i) => (
        <Panel key={i} index={i} />
      ))}
      <svg width={1084} height={1101} style={{ position: 'absolute', left: 0, top: 0, pointerEvents: 'none' }}>
        <text
          x={566}
          y={1091}
          textAnchor="middle"
          fontFamily={FONT}
          fontSize={18}
          fontWeight="bold"
          fill="#000"
          xmlSpace="preserve"
          style={{ whiteSpace: 'pre' }}
        >
          S
          <tspan fontSize={13} dy={5}>0</tspan>
          <tspan dy={-5}>{' ν / cm'}</tspan>
          <tspan fontSize={13} dy={-8}>-1</tspan>
        </text>
        <text transform="translate(17,627) rotate(-90)" fontFamily={FONT} fontSize={16} fontWeight="bold" fill="#000">
          <tspan x={0}>Rel.</tspan>
          <tspan x={80} fill={BLUE}>Weight</tspan>
          <tspan x={157}>or</tspan>
          <tspan x={184} fill="#ee0000">δ</tspan>
        </text>
      </svg>
    </div>
  );
}
